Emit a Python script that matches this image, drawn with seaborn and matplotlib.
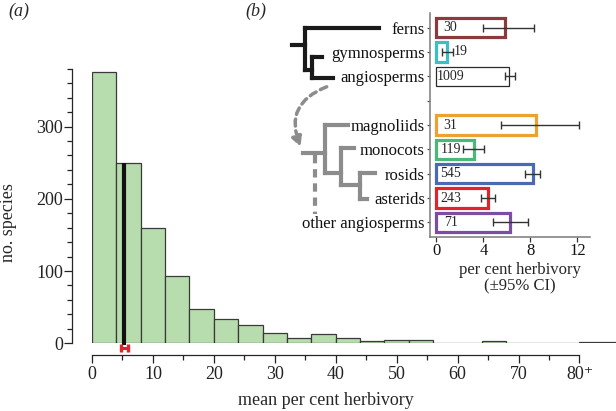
import numpy as np
import pandas as pd
import seaborn as sns
import matplotlib.pyplot as plt
import matplotlib.colors as mcolors
from matplotlib.patches import FancyArrowPatch
from matplotlib.ticker import FixedLocator

# (a) distribution of mean herbivory across species, 4 % bins, last bin = 80+
bin_lo = [0, 4, 8, 12, 16, 20, 24, 28, 32, 36, 40, 44, 48, 52, 56, 60, 64, 68, 72, 76, 80]
n_per_bin = [375, 250, 159, 93, 47, 34, 25, 14, 7, 13, 8, 3, 5, 5, 1, 1, 3, 1, 1, 0, 2]
bin_edges = bin_lo + [90]
mean_herb = 5.3
mean_ci = [4.75, 5.85]

# (b) per cent herbivory by plant group
groups = ['ferns', 'gymnosperms', 'angiosperms', 'magnoliids', 'monocots',
          'rosids', 'asterids', 'other angiosperms']
herb = [5.85, 0.93, 6.18, 8.45, 3.17, 8.22, 4.4, 6.24]
ci_lo = [4.0, 0.48, 5.8, 5.47, 2.3, 7.5, 3.77, 4.8]
ci_hi = [8.3, 1.41, 6.67, 12.13, 4.02, 8.8, 4.96, 7.8]
n_species = [30, 19, 1009, 31, 119, 545, 243, 71]
edge_cols = ['#8b3a3e', '#3bbfc4', '#2a2a2a', '#eca233', '#4cb878',
             '#4a6bb3', '#e2232b', '#7a4ea3']
order = groups[:3] + [' '] + groups[3:]

sns.set_style('ticks')
plt.rcParams['font.family'] = ['Liberation Serif', 'DejaVu Serif']
plt.rcParams['axes.linewidth'] = 0.9

fig = plt.figure(figsize=(6.16, 4.11), dpi=100)
W, H = 616., 411.

# ---------------- panel (a)
ax = fig.add_axes([92 / W, 1 - 343.3 / H, (W - 92) / W, (343.3 - 68) / H])
sns.histplot(x=np.array(bin_lo) + 2, weights=n_per_bin, bins=bin_edges, ax=ax,
             color='#b7dcae', alpha=1, edgecolor='#3a3a3a', linewidth=0.9)
ax.set_xlim(0, 86)
ax.set_ylim(0, 381)
for s in ['top', 'right']:
    ax.spines[s].set_visible(False)
ax.spines['left'].set_position(('outward', 14.4))
ax.spines['bottom'].set_position(('outward', 8.4))
ax.spines['left'].set_bounds(0, 380)
ax.spines['bottom'].set_bounds(0, 80)
ax.set_yticks([0, 100, 200, 300])
ax.yaxis.set_minor_locator(FixedLocator(np.arange(20, 381, 20)))
ax.set_xticks(np.arange(0, 81, 10))
ax.set_xticklabels([str(v) for v in range(0, 80, 10)] + ['80\u207a'])
ax.xaxis.set_minor_locator(FixedLocator(np.arange(5, 80, 10)))
ax.tick_params(axis='both', which='major', length=5.5, width=0.9, labelsize=13, colors='#222222')
ax.tick_params(axis='both', which='minor', length=3.5, width=0.9, colors='#222222')
ax.tick_params(axis='y', pad=1)
ax.tick_params(axis='x', pad=2.5)
ax.set_xlabel('mean per cent herbivory', fontsize=13)
ax.set_ylabel('no. species', fontsize=13)
ax.xaxis.set_label_coords(0.4456, -0.178)
ax.yaxis.set_label_coords(-0.1437, 0.439)

# mean line + red CI marker
mean_bin = np.searchsorted(bin_edges, mean_herb) - 1
ax.plot([mean_herb, mean_herb], [-3, n_per_bin[mean_bin]], color='#111111', lw=3,
        solid_capstyle='butt', clip_on=False, zorder=5)
eb = ax.errorbar(mean_herb, -7, xerr=[[mean_herb - mean_ci[0]], [mean_ci[1] - mean_herb]],
                 fmt='none', ecolor='#e2232b', elinewidth=2.2, capsize=3, capthick=2.4, zorder=6)
for art in eb.lines[1] + eb.lines[2]:
    art.set_clip_on(False)

# ---------------- panel (b)
bx_l, bx_r = 430., 590.4
by_t, by_b = 13., 237.
bx = fig.add_axes([bx_l / W, 1 - by_b / H, (bx_r - bx_l) / W, (by_b - by_t) / H])
df = pd.DataFrame({'group': groups, 'herb': herb})
sns.barplot(data=df, x='herb', y='group', hue='group', order=order,
            palette=dict(zip(groups, edge_cols)), saturation=1, fill=False,
            linewidth=2.3, width=0.8, legend=False, errorbar=None, ax=bx)
for p in bx.patches:
    if mcolors.to_hex(p.get_edgecolor()) == '#2a2a2a':
        p.set_linewidth(0.9)

pos = [order.index(g) for g in groups]
hv = np.array(herb)
bx.errorbar(hv, pos, xerr=[hv - np.array(ci_lo), np.array(ci_hi) - hv], fmt='none',
            ecolor='#333333', elinewidth=1, capsize=2.8, capthick=1, zorder=4)
for x, y, n, hi in zip(herb, pos, n_species, ci_hi):
    if x > 2:
        bx.text(1.2, y, str(n), ha='center', va='center', fontsize=10)
    else:
        bx.text(hi + 0.02, y, str(n), ha='left', va='center', fontsize=10)

bx.set_xlim(-0.55, 13.1)
bx.set_ylim(8.6, -0.6)
sns.despine(ax=bx)
for s in ['left', 'bottom']:
    bx.spines[s].set_color('#7a7a7a')
    bx.spines[s].set_linewidth(1.1)
bx.set_xticks([0, 4, 8, 12])
bx.tick_params(axis='x', length=3.5, width=0.9, labelsize=12, pad=0.5, colors='#333333', labelcolor='#111111')
bx.tick_params(axis='y', length=2.2, width=0.9, labelsize=12, pad=1.5, colors='#555555', labelcolor='#111111')
bx.set_ylabel('')
bx.set_xlabel('per cent herbivory\n(\u00b195% CI)', fontsize=12, linespacing=1.05)
bx.xaxis.set_label_coords(0.559, -0.11)

# ---------------- phylogeny
tx = fig.add_axes([285 / W, 1 - by_b / H, (bx_l - 285) / W, (by_b - by_t) / H])
tx.set_xlim(285, bx_l)
tx.set_ylim(8.6, -0.6)
tx.axis('off')
black_tree = [((291.7, 305), (0.71, 0.71)), ((305, 305), (0.03, 1.74)),
              ((305, 379.3), (0.03, 0.03)), ((305, 312), (1.74, 1.74)),
              ((312, 312), (1.19, 2.08)), ((312, 321.7), (1.19, 1.19)),
              ((312, 333.3), (2.08, 2.08))]
gray_tree = [((302.7, 325), (5.17, 5.17)), ((325, 325), (4.0, 5.99)),
             ((325, 348.3), (4.0, 4.0)), ((325, 340.7), (5.99, 5.99)),
             ((340.7, 340.7), (4.96, 6.47)), ((340.7, 354), (4.96, 4.96)),
             ((340.7, 360), (6.47, 6.47)), ((360, 360), (5.99, 7.02)),
             ((360, 375), (5.99, 5.99)), ((360, 367.3), (7.02, 7.02))]
for xs, ys in black_tree:
    tx.plot(xs, ys, color='#1a1a1a', lw=3, solid_capstyle='projecting')
for xs, ys in gray_tree:
    tx.plot(xs, ys, color='#8c8c8c', lw=3, solid_capstyle='projecting')
tx.plot([315, 315], [5.24, 7.64], color='#8c8c8c', lw=3, dashes=(2, 1.4))
arr = FancyArrowPatch((326.7, 2.43), (300.7, 4.9), connectionstyle='arc3,rad=0.5',
                      arrowstyle='-|>', mutation_scale=14, color='#8c8c8c', lw=2.5,
                      linestyle=(0, (2, 1.4)), shrinkA=0, shrinkB=0)
tx.add_patch(arr)

fig.text(8 / W, 1 - 3 / H, '(a)', fontsize=13, style='italic', va='top', ha='left')
fig.text(245 / W, 1 - 3 / H, '(b)', fontsize=13, style='italic', va='top', ha='left')

fig.savefig('out.png', dpi=100, facecolor='white')
